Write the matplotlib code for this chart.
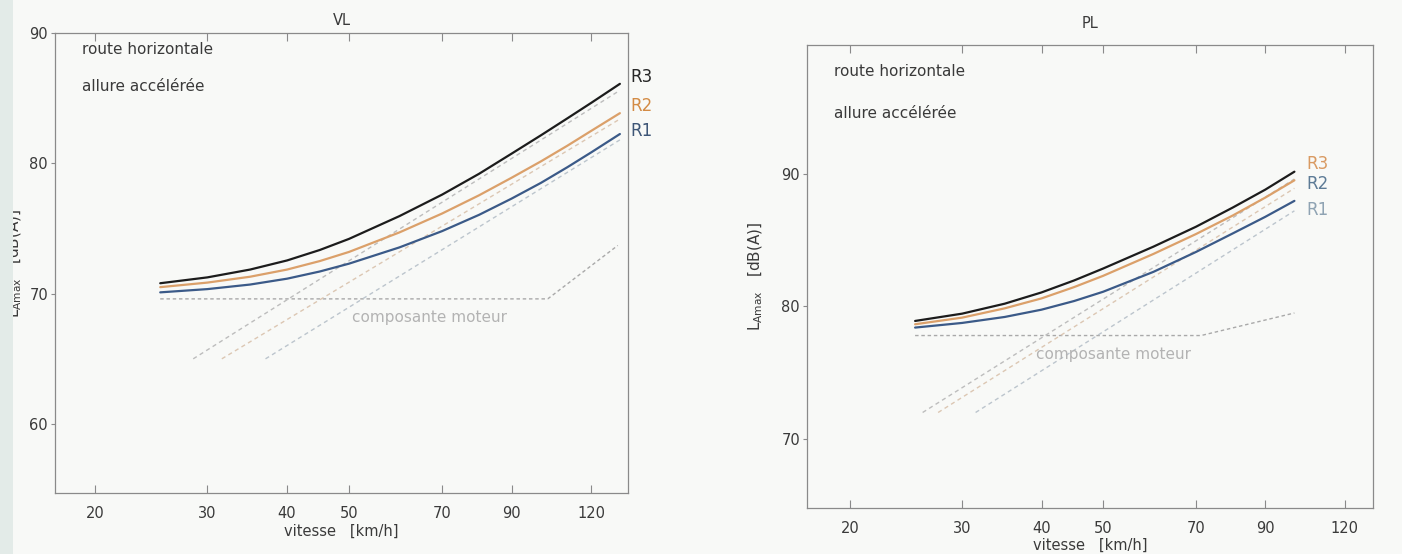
import matplotlib
matplotlib.use("Agg")
import matplotlib.pyplot as plt
from matplotlib.ticker import FixedLocator, NullLocator, FixedFormatter
from matplotlib.patches import Rectangle

# ---------------- data ----------------
series_names = ["R1", "R2", "R3"]
xticks = [20, 30, 40, 50, 70, 90, 120]

# VL (light vehicles)
vl_speed = [25.3, 30, 35, 40, 45, 50, 60, 70, 80, 90, 100, 110, 120, 133]
vl_r1 = [70.1, 70.35, 70.7, 71.15, 71.7, 72.3, 73.55, 74.8, 76.05, 77.3,
         78.5, 79.7, 80.85, 82.25]
vl_r2 = [70.5, 70.85, 71.3, 71.85, 72.5, 73.2, 74.7, 76.15, 77.55, 78.9,
         80.15, 81.35, 82.5, 83.85]
vl_r3 = [70.8, 71.25, 71.85, 72.55, 73.35, 74.2, 75.95, 77.6, 79.2, 80.75,
         82.15, 83.45, 84.65, 86.1]
vl_engine_speed = [25.3, 102.5, 132]
vl_engine_level = [69.6, 69.6, 73.7]
vl_roll_speed = [[37.0, 133], [31.6, 133], [28.5, 133]]
vl_roll_level = [[65.0, 81.8], [65.0, 83.4], [65.0, 85.6]]
vl_label_level = [82.5, 84.4, 86.6]
vl_yticks = [60, 70, 80, 90]

# PL (heavy vehicles)
pl_speed = [25.3, 30, 35, 40, 45, 50, 60, 70, 80, 90, 100]
pl_r1 = [78.4, 78.75, 79.2, 79.75, 80.4, 81.1, 82.6, 84.1, 85.5, 86.75, 87.95]
pl_r2 = [78.65, 79.15, 79.85, 80.6, 81.45, 82.3, 83.95, 85.45, 86.85, 88.2,
         89.5]
pl_r3 = [78.9, 79.45, 80.2, 81.05, 81.95, 82.85, 84.5, 86.0, 87.45, 88.8,
         90.15]
pl_engine_speed = [25.3, 71.3, 100]
pl_engine_level = [77.8, 77.8, 79.5]
pl_roll_speed = [[31.5, 100], [27.5, 100], [26.0, 100]]
pl_roll_level = [[72.0, 87.2], [72.0, 88.9], [72.0, 89.6]]
pl_label_level = [87.3, 89.2, 90.7]
pl_yticks = [70, 80, 90]

# ---------------- style ----------------
curve_colors = ["#3b5a88", "#dba06a", "#1c1c1c"]
vl_label_colors = ["#3e5677", "#d38b45", "#262626"]
pl_label_colors = ["#8fa3b3", "#5d7b96", "#d99a62"]
roll_colors = ["#bcc5cd", "#dcc7b3", "#bdbdbd"]
frame_color = "#8a8a8a"
text_color = "#3a3a3a"
faint = "#a9a9a9"

plt.rcParams["font.family"] = ["DejaVu Sans"]

fig = plt.figure(figsize=(14.02, 5.54), dpi=100, facecolor="#f8f9f7")
fig.patches.append(Rectangle((0, 0), 0.009, 1, transform=fig.transFigure,
                             facecolor="#e3ebe8", edgecolor="none", zorder=0))

ax_vl = fig.add_axes([0.0392, 0.110, 0.4088, 0.8304])
ax_pl = fig.add_axes([0.5756, 0.0830, 0.4038, 0.8358])


def draw_panel(ax, title, speed, curves, engine_speed, engine_level,
               roll_speed, roll_level, label_level, label_colors,
               xlim, ylim, yticks, label_x, engine_text_xy, text_y,
               title_pad, ylabel_pad):
    ax.set_facecolor("none")
    ax.set_xscale("log")
    ax.set_xlim(*xlim)
    ax.set_ylim(*ylim)

    # engine component and rolling-noise components
    ax.plot(engine_speed, engine_level, color=faint, lw=1.0,
            dashes=(2.5, 2.0), zorder=2)
    for rs, rl, c in zip(roll_speed, roll_level, roll_colors):
        ax.plot(rs, rl, color=c, lw=1.0, dashes=(3.0, 2.5), zorder=2)

    # total level curves
    for vals, c in zip(curves, curve_colors):
        ax.plot(speed, vals, color=c, lw=1.6, zorder=3,
                solid_capstyle="round", solid_joinstyle="round")

    for name, ly, c in zip(series_names, label_level, label_colors):
        ax.text(label_x, ly, name, color=c, fontsize=12, ha="left",
                va="center")

    ax.text(engine_text_xy[0], engine_text_xy[1], "composante moteur",
            color="#b3b3b3", fontsize=11, ha="center", va="center")

    ax.text(0.047, text_y[0], "route horizontale", transform=ax.transAxes,
            fontsize=11, color=text_color, ha="left", va="center")
    ax.text(0.047, text_y[1], "allure accélérée", transform=ax.transAxes,
            fontsize=11, color=text_color, ha="left", va="center")

    ax.set_title(title, fontsize=10.5, color=text_color, pad=title_pad)

    ax.xaxis.set_major_locator(FixedLocator(xticks))
    ax.xaxis.set_major_formatter(FixedFormatter([str(t) for t in xticks]))
    ax.xaxis.set_minor_locator(NullLocator())
    ax.set_yticks(yticks)
    ax.tick_params(axis="x", direction="in", top=True, length=6, width=0.8,
                   color=frame_color, labelsize=10.5, labelcolor=text_color,
                   pad=9)
    ax.tick_params(axis="y", direction="out", length=3, width=0.8,
                   color=frame_color, labelsize=10.5, labelcolor=text_color,
                   pad=2)
    for s in ax.spines.values():
        s.set_color(frame_color)
        s.set_linewidth(0.9)

    ax.set_xlabel("vitesse   [km/h]", fontsize=10.5, color=text_color,
                  labelpad=2)
    ax.set_ylabel(r"L$_{\mathrm{Amax}}$   [dB(A)]", fontsize=11,
                  color=text_color, labelpad=ylabel_pad)


draw_panel(ax_vl, "VL", vl_speed, [vl_r1, vl_r2, vl_r3],
           vl_engine_speed, vl_engine_level, vl_roll_speed, vl_roll_level,
           vl_label_level, vl_label_colors,
           xlim=(17.3, 137), ylim=(54.7, 90), yticks=vl_yticks,
           label_x=138, engine_text_xy=(67, 68.2), text_y=(0.965, 0.883),
           title_pad=6, ylabel_pad=4)

draw_panel(ax_pl, "PL", pl_speed, [pl_r1, pl_r2, pl_r3],
           pl_engine_speed, pl_engine_level, pl_roll_speed, pl_roll_level,
           pl_label_level, pl_label_colors,
           xlim=(17.1, 133), ylim=(64.8, 99.7), yticks=pl_yticks,
           label_x=104.5, engine_text_xy=(52, 76.4), text_y=(0.942, 0.853),
           title_pad=12, ylabel_pad=12)

fig.savefig("out.png", dpi=100, facecolor=fig.get_facecolor())
